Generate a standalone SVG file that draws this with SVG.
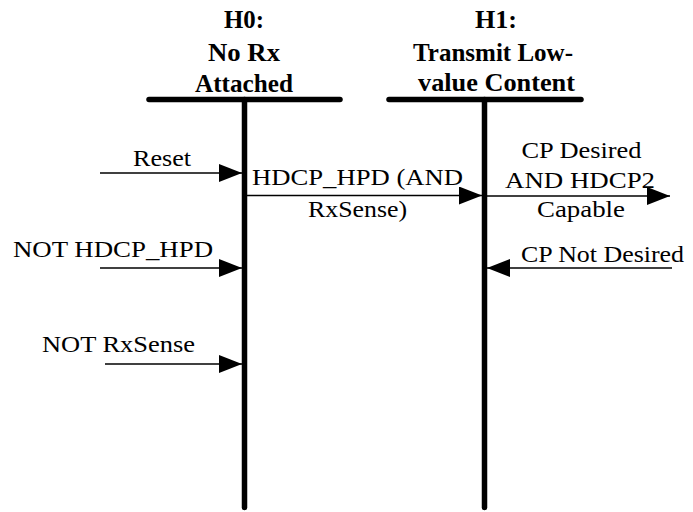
<svg xmlns="http://www.w3.org/2000/svg" width="693" height="512" viewBox="0 0 693 512">
<style>
.title{font-family:"Liberation Serif","Times New Roman",serif;font-weight:bold;font-size:25.5px;fill:#000;text-anchor:middle}
.lbl{font-family:"Liberation Serif","Times New Roman",serif;font-size:24px;fill:#000;text-anchor:middle}
.bar{stroke:#000;stroke-width:5.5;stroke-linecap:round;fill:none}
.msg{stroke:#000;stroke-width:1.6;fill:none}
</style>
<defs>
<marker id="ah" markerUnits="userSpaceOnUse" markerWidth="24" markerHeight="18" refX="23" refY="9" orient="auto">
<path d="M0,0 L23,9 L0,18 z" fill="#000"/>
</marker>
</defs>
<rect width="693" height="512" fill="#fff"/>
<g id="H0">
<text class="title" x="244" y="28" textLength="40" lengthAdjust="spacingAndGlyphs">H0:</text>
<text class="title" x="244" y="61" textLength="72" lengthAdjust="spacingAndGlyphs">No Rx</text>
<text class="title" x="244" y="91.5" textLength="98" lengthAdjust="spacingAndGlyphs">Attached</text>
<line class="bar" x1="149" y1="99.5" x2="340" y2="99.5"/>
<line class="bar" x1="244.5" y1="99.5" x2="244.5" y2="507.5"/>
</g>
<g id="H1">
<text class="title" x="496" y="28" textLength="42" lengthAdjust="spacingAndGlyphs">H1:</text>
<text class="title" x="493" y="61" textLength="160" lengthAdjust="spacingAndGlyphs">Transmit Low-</text>
<text class="title" x="496.5" y="91" textLength="157" lengthAdjust="spacingAndGlyphs">value Content</text>
<line class="bar" x1="389" y1="99.5" x2="581" y2="99.5"/>
<line class="bar" x1="484.5" y1="99.5" x2="484.5" y2="507.5"/>
</g>
<g id="connectors">
<line class="msg" x1="100" y1="173" x2="242" y2="173" marker-end="url(#ah)"/>
<line class="msg" x1="247" y1="195.5" x2="482" y2="195.5" marker-end="url(#ah)"/>
<line class="msg" x1="100" y1="268" x2="242" y2="268" marker-end="url(#ah)"/>
<line class="msg" x1="105" y1="364" x2="242" y2="364" marker-end="url(#ah)"/>
<line class="msg" x1="487" y1="196" x2="670" y2="196" marker-end="url(#ah)"/>
<line class="msg" x1="672" y1="268" x2="487" y2="268" marker-end="url(#ah)"/>
</g>
<g id="labels">
<text class="lbl" x="162" y="166" textLength="58" lengthAdjust="spacingAndGlyphs">Reset</text>
<text class="lbl" x="357.5" y="185" textLength="211" lengthAdjust="spacingAndGlyphs">HDCP_HPD (AND</text>
<text class="lbl" x="357.5" y="217" textLength="99" lengthAdjust="spacingAndGlyphs">RxSense)</text>
<text class="lbl" x="113" y="257" textLength="200" lengthAdjust="spacingAndGlyphs">NOT HDCP_HPD</text>
<text class="lbl" x="118.5" y="352" textLength="153" lengthAdjust="spacingAndGlyphs">NOT RxSense</text>
<text class="lbl" x="581.5" y="158" textLength="120" lengthAdjust="spacingAndGlyphs">CP Desired</text>
<text class="lbl" x="580" y="188" textLength="150" lengthAdjust="spacingAndGlyphs">AND HDCP2</text>
<text class="lbl" x="581" y="217" textLength="88" lengthAdjust="spacingAndGlyphs">Capable</text>
<text class="lbl" x="602.5" y="262" textLength="163" lengthAdjust="spacingAndGlyphs">CP Not Desired</text>
</g>
</svg>
